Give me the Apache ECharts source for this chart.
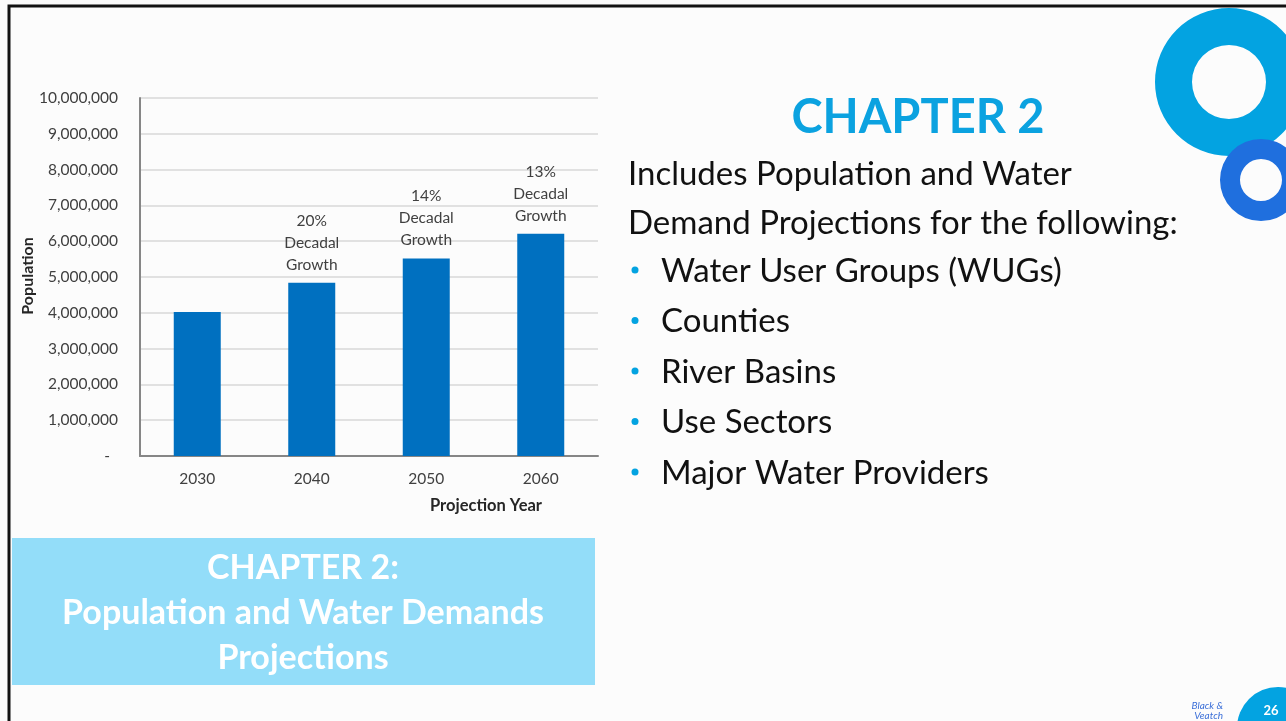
<!DOCTYPE html>
<html>
<head>
<meta charset="utf-8">
<script src="https://cdn.jsdelivr.net/npm/echarts@6/dist/echarts.min.js"></script>
<style>
  html, body { margin: 0; padding: 0; background: #fafafa; }
  #main { width: 1286px; height: 721px; }
</style>
</head>
<body>
<div id="main"></div>
<script>
// 数据
const years = ['2030', '2040', '2050', '2060']
const population = [4020000, 4840000, 5520000, 6210000]
const growth = ['', '20%', '14%', '13%']
const bullets = ['Water User Groups (WUGs)', 'Counties', 'River Basins', 'Use Sectors', 'Major Water Providers']

const chart = echarts.init(document.getElementById('main'))
const font = 'Lato, "Open Sans", sans-serif'
const bodyFont = '33px ' + font

// 右侧文字和装饰
const graphics = [
  // 边框
  { type: 'rect', shape: { x: 9, y: 6, width: 1290, height: 730 }, style: { fill: '#fcfcfc', stroke: '#111', lineWidth: 3 }, z: -10 },
  // 右上圆环
  { type: 'ring', shape: { cx: 1229, cy: 82, r: 74, r0: 37 }, style: { fill: '#03a3e1' } },
  { type: 'ring', shape: { cx: 1261, cy: 180, r: 41, r0: 21 }, style: { fill: '#1f6fde' } },
  // 右下页码
  { type: 'circle', shape: { cx: 1278, cy: 728, r: 41 }, style: { fill: '#03a3e1' } },
  { type: 'text', x: 1271, y: 711, style: { text: '26', fill: '#fff', font: 'bold 13px ' + font, align: 'center', verticalAlign: 'middle' } },
  { type: 'text', x: 1223, y: 706, style: { text: 'Black &', fill: '#3b6fd8', font: 'italic 10px ' + font, align: 'right', verticalAlign: 'middle' } },
  { type: 'text', x: 1223, y: 716, style: { text: 'Veatch', fill: '#3b6fd8', font: 'italic 10px ' + font, align: 'right', verticalAlign: 'middle' } },
  // 标题
  { type: 'text', x: 918, y: 118, style: { text: 'CHAPTER 2', fill: '#0ba2e0', font: 'bold 47px ' + font, align: 'center', verticalAlign: 'middle' } },
  { type: 'text', x: 628, y: 174, style: { text: 'Includes Population and Water', fill: '#111', font: bodyFont, verticalAlign: 'middle' } },
  { type: 'text', x: 628, y: 223, style: { text: 'Demand Projections for the following:', fill: '#111', font: bodyFont, verticalAlign: 'middle' } },
  // 底部横幅
  { type: 'rect', shape: { x: 12, y: 538, width: 583, height: 147 }, style: { fill: '#93ddf9' } },
  { type: 'text', x: 303, y: 568, style: { text: 'CHAPTER 2:', fill: '#fff', font: 'bold 34px ' + font, align: 'center', verticalAlign: 'middle' } },
  { type: 'text', x: 303, y: 613, style: { text: 'Population and Water Demands', fill: '#fff', font: 'bold 34px ' + font, align: 'center', verticalAlign: 'middle' } },
  { type: 'text', x: 303, y: 658, style: { text: 'Projections', fill: '#fff', font: 'bold 34px ' + font, align: 'center', verticalAlign: 'middle' } },
  // 坐标轴标题
  { type: 'text', x: 486, y: 506, style: { text: 'Projection Year', fill: '#262626', font: 'bold 16.5px ' + font, align: 'center', verticalAlign: 'middle' } },
  { type: 'text', x: 28, y: 276, rotation: Math.PI / 2, style: { text: 'Population', fill: '#262626', font: 'bold 16px ' + font, align: 'center', verticalAlign: 'middle' } }
]

bullets.forEach((b, i) => {
  const y = 271 + i * 50.5
  graphics.push({ type: 'circle', shape: { cx: 635, cy: y - 1, r: 3.5 }, style: { fill: '#03a3e1' } })
  graphics.push({ type: 'text', x: 661, y: y, style: { text: b, fill: '#111', font: bodyFont, verticalAlign: 'middle' } })
})

const option = {
  animation: false,
  backgroundColor: 'transparent',
  graphic: graphics,
  grid: { left: 140, right: 688, top: 98, bottom: 265 },
  xAxis: {
    type: 'category',
    data: years,
    axisLine: { lineStyle: { color: '#868686', width: 2 } },
    axisTick: { show: false },
    axisLabel: { color: '#404040', fontSize: 15.5, fontFamily: font, margin: 15 }
  },
  yAxis: {
    type: 'value',
    min: 0,
    max: 10000000,
    interval: 1000000,
    axisLine: { show: true, lineStyle: { color: '#868686', width: 2 } },
    axisTick: { show: false },
    splitLine: { lineStyle: { color: '#d9d9d9', width: 1.5 } },
    axisLabel: {
      color: '#404040',
      fontSize: 15.5,
      fontFamily: font,
      margin: 22,
      formatter: v => v === 0 ? '-  ' : v.toLocaleString('en-US')
    }
  },
  series: [
    {
      type: 'bar',
      data: population,
      barWidth: 47,
      itemStyle: { color: '#0070c0' },
      label: {
        show: true,
        position: 'top',
        distance: 7,
        color: '#404040',
        fontSize: 15.5,
        fontFamily: font,
        lineHeight: 22,
        formatter: p => growth[p.dataIndex] ? growth[p.dataIndex] + '\nDecadal\nGrowth' : ''
      }
    }
  ]
}

chart.setOption(option)
</script>
</body>
</html>
